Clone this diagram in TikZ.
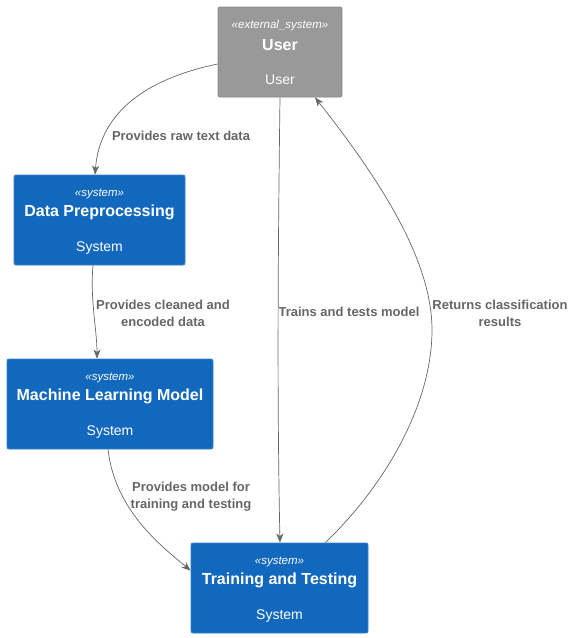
\documentclass[tikz,border=0pt]{standalone}
\usepackage{fontspec}
\setmainfont{Liberation Sans}
\usepackage{tikz}
\usetikzlibrary{arrows.meta,positioning,calc}
\definecolor{sysblue}{HTML}{1168BD}
\definecolor{sysborder}{HTML}{3C7FC0}
\definecolor{extgray}{HTML}{999999}
\definecolor{extborder}{HTML}{8A8A8A}
\definecolor{relgray}{HTML}{666666}
\tikzset{
    sysBox/.style={
        draw=sysborder,
        fill=sysblue,
        rounded corners=2pt,
        minimum height=90pt,
        line width=0.8pt
    },
    extBox/.style={
        sysBox,
        draw=extborder,
        fill=extgray
    },
    stereo/.style={font=\fontsize{11.5}{13}\selectfont\itshape, text=white},
    title/.style={font=\fontsize{16}{19}\selectfont\bfseries, text=white},
    descr/.style={font=\fontsize{14}{16}\selectfont, text=white},
    relLabel/.style={font=\fontsize{13}{17}\selectfont\bfseries, text=relgray, align=center},
    rel/.style={draw=relgray, line width=0.7pt, -{Stealth[length=9pt,width=7pt,inset=2.5pt]}}
}
\begin{document}
\begin{tikzpicture}[x=1pt, y=-1pt]
    \useasboundingbox (0,0) rectangle (578,638);

    % User
    \node[extBox, minimum width=124pt] (user) at (280,52) {};
    \node[stereo] (user-st) at ([yshift=-19pt]user.north) {«external\_system»};
    \node[title] (user-ti) at ([yshift=-38pt]user.north) {User};
    \node[descr] (user-de) at ([yshift=-73pt]user.north) {User};

    % Data Preprocessing
    \node[sysBox, minimum width=171pt] (prep) at (99.5,220) {};
    \node[stereo] (prep-st) at ([yshift=-19pt]prep.north) {«system»};
    \node[title] (prep-ti) at ([yshift=-38pt]prep.north) {Data Preprocessing};
    \node[descr] (prep-de) at ([yshift=-73pt]prep.north) {System};

    % Machine Learning Model
    \node[sysBox, minimum width=206pt] (model) at (110,404) {};
    \node[stereo] (model-st) at ([yshift=-19pt]model.north) {«system»};
    \node[title] (model-ti) at ([yshift=-38pt]model.north) {Machine Learning Model};
    \node[descr] (model-de) at ([yshift=-73pt]model.north) {System};

    % Training and Testing
    \node[sysBox, minimum width=177pt] (train) at (279.5,588) {};
    \node[stereo] (train-st) at ([yshift=-19pt]train.north) {«system»};
    \node[title] (train-ti) at ([yshift=-38pt]train.north) {Training and Testing};
    \node[descr] (train-de) at ([yshift=-73pt]train.north) {System};

    % Relations
    \draw[rel] ([yshift=-12pt]user.west) .. controls (150,78) and (100,110) .. ([xshift=-4.5pt]prep.north);
    \node[relLabel] (l-raw) at (181,136) {Provides raw text data};

    \draw[rel] ([xshift=-6.5pt]prep.south) .. controls (90,300) and (97,330) .. ([xshift=-13pt]model.north);
    \node[relLabel] (l-clean) at (163,313) {Provides cleaned and\\encoded data};

    \draw[rel] ([xshift=-2pt]model.south) .. controls (115,510) and (160,545) .. ([yshift=-28pt]train.north west);
    \node[relLabel] (l-model) at (191,497) {Provides model for\\training and testing};

    \draw[rel] (user.south) .. controls (278,250) and (277,400) .. ([xshift=0.5pt]train.north);
    \node[relLabel] (l-trains) at (349,312) {Trains and tests model};

    \draw[rel] ([xshift=46pt]train.north) .. controls (390,480) and (432,400) .. (432,330)
        .. controls (432,260) and (380,180) .. ([xshift=35pt]user.south);
    \node[relLabel] (l-returns) at (500,313) {Returns classification\\results};
\end{tikzpicture}
\end{document}
